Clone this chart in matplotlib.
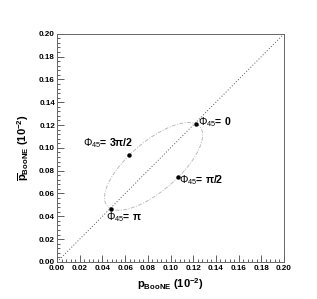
import numpy as np
import matplotlib
matplotlib.use("Agg")
import matplotlib.pyplot as plt
from matplotlib.ticker import MultipleLocator, FormatStrFormatter

plt.rcParams['font.family'] = ['Liberation Sans', 'DejaVu Sans']
plt.rcParams['mathtext.fontset'] = 'custom'
plt.rcParams['mathtext.rm'] = 'Liberation Sans'
plt.rcParams['mathtext.it'] = 'Liberation Sans:italic'
plt.rcParams['mathtext.bf'] = 'Liberation Sans:bold'

# marked phases, units 10^-2
phase_labels = [r"$\mathrm{\Phi_{45}}$= 0", r"$\mathrm{\Phi_{45}}$= π/2",
                r"$\mathrm{\Phi_{45}}$= π", r"$\mathrm{\Phi_{45}}$= 3π/2"]
p_x = [0.1225, 0.1066, 0.0476, 0.0634]
p_y = [0.1210, 0.0746, 0.0465, 0.0939]

# ellipse p(phi) = c + a cos(phi) + b sin(phi), fixed by the four marked points
cx = (p_x[0] + p_x[2]) / 2
cy = (p_y[0] + p_y[2]) / 2
ax_ = (p_x[0] - p_x[2]) / 2
ay_ = (p_y[0] - p_y[2]) / 2
bx_ = (p_x[1] - p_x[3]) / 2
by_ = (p_y[1] - p_y[3]) / 2
phi = np.linspace(0, 2 * np.pi, 400)
ell_x = cx + ax_ * np.cos(phi) + bx_ * np.sin(phi)
ell_y = cy + ay_ * np.cos(phi) + by_ * np.sin(phi)

diag = [0.0, 0.2]

fig = plt.figure(figsize=(3.17, 2.99), dpi=100)
ax = fig.add_axes([0.180, 0.124, 0.716, 0.763])

ax.plot(diag, diag, color="#555555", linestyle=(0, (1, 2)), linewidth=0.7)
ax.plot(ell_x, ell_y, color="#bbbbbb", linestyle=(0, (4, 1.5, 1, 1.5)), linewidth=0.7)
ax.plot(p_x, p_y, "o", color="black", markersize=2.2)

txt_kw = dict(fontsize=7.6, fontweight="bold")
ax.text(0.1245, 0.1225, phase_labels[0], ha="left", va="center", **txt_kw)
ax.text(0.1075, 0.0715, phase_labels[1], ha="left", va="center", **txt_kw)
ax.text(0.0430, 0.0390, phase_labels[2], ha="left", va="center", **txt_kw)
ax.text(0.0225, 0.1040, phase_labels[3], ha="left", va="center", **txt_kw)

ax.set_xlim(0, 0.2)
ax.set_ylim(0, 0.2)
ax.xaxis.set_major_locator(MultipleLocator(0.02))
ax.yaxis.set_major_locator(MultipleLocator(0.02))
ax.xaxis.set_minor_locator(MultipleLocator(0.004))
ax.yaxis.set_minor_locator(MultipleLocator(0.004))
ax.tick_params(which="both", direction="in", top=False, right=False,
               colors="#444444", width=0.6, labelcolor="black", labelsize=5.8)
ax.tick_params(axis="x", pad=2.5)
ax.tick_params(axis="y", pad=1.5)
ax.tick_params(which="major", length=5)
ax.tick_params(which="minor", length=2.5)
ax.xaxis.set_major_formatter(FormatStrFormatter("%.2f"))
ax.yaxis.set_major_formatter(FormatStrFormatter("%.2f"))
for lab in ax.get_xticklabels() + ax.get_yticklabels():
    lab.set_fontweight("bold")
for s in ax.spines.values():
    s.set_color("#666666")
    s.set_linewidth(0.7)

ax.set_xlabel(r"$\mathbf{p_{BooNE}}$ $\mathbf{(10^{-2})}$", fontsize=8, labelpad=3)
ax.set_ylabel(r"$\mathbf{\overline{p}_{BooNE}}$ $\mathbf{(10^{-2})}$", fontsize=8, labelpad=6)

fig.savefig("out.png", dpi=100)
